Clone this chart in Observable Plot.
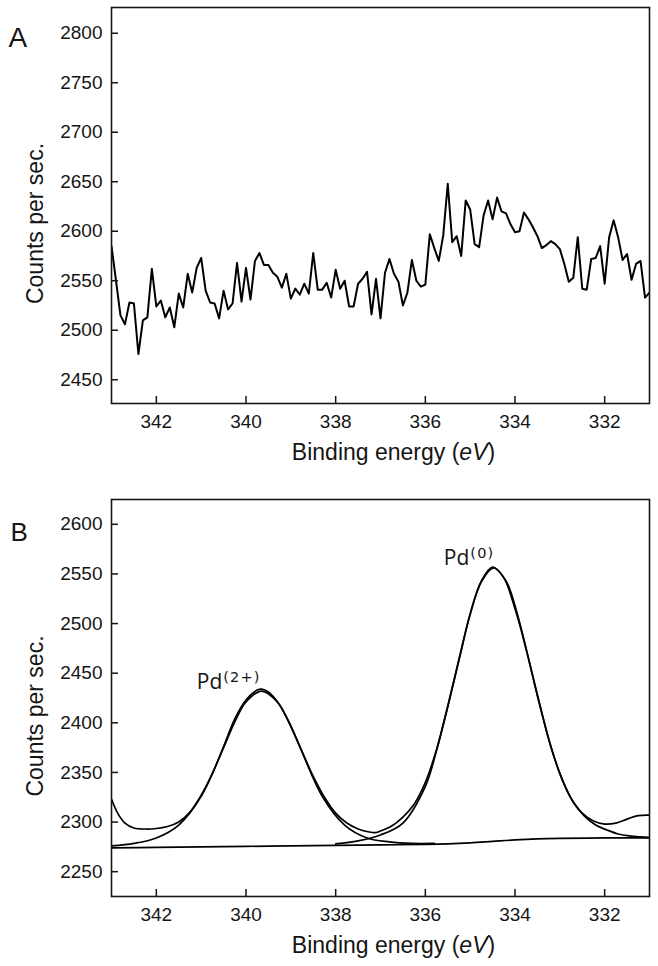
<!DOCTYPE html>
<html>
<head>
<meta charset="utf-8">
<script src="https://cdn.jsdelivr.net/npm/d3@7"></script>
<script src="https://cdn.jsdelivr.net/npm/@observablehq/plot@0.6"></script>
<style>
  html, body { margin: 0; padding: 0; background: #fff; }
  #chart svg { display: block; }
</style>
</head>
<body>
<div id="chart"></div>
<script>
// ---------- Panel A: raw spectrum ----------
const aEnergy = [343.0,342.9,342.8,342.7,342.6,342.5,342.4,342.3,342.2,342.1,342.0,341.9,341.8,341.7,341.6,341.5,341.4,341.3,341.2,341.1,341.0,340.9,340.8,340.7,340.6,340.5,340.4,340.3,340.2,340.1,340.0,339.9,339.8,339.7,339.6,339.5,339.4,339.3,339.2,339.1,339.0,338.9,338.8,338.7,338.6,338.5,338.4,338.3,338.2,338.1,338.0,337.9,337.8,337.7,337.6,337.5,337.4,337.3,337.2,337.1,337.0,336.9,336.8,336.7,336.6,336.5,336.4,336.3,336.2,336.1,336.0,335.9,335.8,335.7,335.6,335.5,335.4,335.3,335.2,335.1,335.0,334.9,334.8,334.7,334.6,334.5,334.4,334.3,334.2,334.1,334.0,333.9,333.8,333.7,333.6,333.5,333.4,333.3,333.2,333.1,333.0,332.9,332.8,332.7,332.6,332.5,332.4,332.3,332.2,332.1,332.0,331.9,331.8,331.7,331.6,331.5,331.4,331.3,331.2,331.1,331.0];
const aCounts = [2585,2550,2515,2506,2528,2527,2476,2510,2513,2562,2524,2530,2513,2523,2503,2537,2523,2557,2538,2563,2573,2540,2528,2527,2512,2540,2521,2527,2568,2529,2563,2531,2570,2578,2566,2566,2558,2554,2543,2557,2532,2542,2536,2547,2537,2578,2541,2541,2548,2533,2561,2542,2550,2524,2524,2547,2552,2559,2516,2552,2512,2558,2572,2557,2549,2525,2538,2571,2550,2544,2546,2597,2583,2570,2596,2648,2589,2595,2575,2631,2622,2587,2584,2616,2631,2612,2634,2620,2618,2607,2599,2600,2619,2612,2604,2595,2583,2586,2590,2587,2582,2567,2549,2553,2594,2542,2541,2572,2573,2585,2547,2594,2611,2594,2571,2577,2551,2567,2570,2533,2538];

// ---------- Panel B: fitted spectrum ----------
const bEnergy = [343.0,342.85,342.7,342.5,342.25,342.0,341.75,341.5,341.25,341.0,340.75,340.5,340.25,340.0,339.75,339.65,339.5,339.25,339.0,338.75,338.5,338.25,338.0,337.75,337.5,337.25,337.1,337.0,336.75,336.5,336.25,336.0,335.75,335.5,335.25,335.0,334.75,334.5,334.25,334.0,333.75,333.5,333.25,333.0,332.75,332.5,332.25,332.0,331.75,331.5,331.25,331.0];
const bCounts = [2323,2308,2299,2294,2293,2293.5,2295.5,2300,2310,2327,2349,2376,2404,2423,2433,2434,2431,2418,2397,2371,2346,2325,2309,2299,2293,2290,2289.5,2291,2296,2305,2318,2340,2373,2417,2464,2510,2543,2557,2546,2515,2474,2427,2384,2349,2324,2309,2301,2298,2299,2303,2306.5,2307];

const pd2Energy = [343.0,342.5,342.0,341.5,341.0,340.5,340.25,340.0,339.65,339.3,339.05,338.8,338.3,337.8,337.3,336.8,336.3,335.8];
const pd2Counts = [2276,2278.5,2284,2297,2326,2375,2401,2421,2432,2421,2401,2376,2326,2297,2284,2280,2278.5,2278.5];

const pd0Energy = [338.0,337.5,337.0,336.5,336.0,335.75,335.5,335.25,335.0,334.75,334.48,334.2,333.95,333.7,333.45,333.2,332.95,332.7,332.45,332.2,331.95,331.7,331.45,331.2,331.0];
const pd0Counts = [2278,2281,2287,2299,2336,2372,2416,2463,2509,2542,2556,2543,2510,2465,2419,2376,2343,2320,2306,2297,2292,2288,2286,2285,2284.5];

const bgEnergy = [343.0,342.0,341.0,340.0,339.0,338.0,337.0,336.0,335.5,335.0,334.5,334.0,333.5,333.0,332.0,331.0];
const bgCounts = [2274,2274.5,2275,2275.5,2276,2276.5,2277,2277.5,2278,2279,2280.5,2282,2283,2283.5,2284,2284];

// ---------- ticks & labels ----------
const xTicks = [342, 340, 338, 336, 334, 332];
const yTicksA = [2450, 2500, 2550, 2600, 2650, 2700, 2750, 2800];
const yTicksB = [2250, 2300, 2350, 2400, 2450, 2500, 2550, 2600];
const peakNames = ["Pd", "Pd"];
const peakCharges = ["(2+)", "(0)"];
const peakLabelX = [340.53, 335.02];
const peakLabelY = [2434, 2559];

const toRows = (xs, ys) => xs.map((x, i) => ({x, y: ys[i]}));
const seriesA = toRows(aEnergy, aCounts);
const seriesB = toRows(bEnergy, bCounts);
const seriesPd2 = toRows(pd2Energy, pd2Counts);
const seriesPd0 = toRows(pd0Energy, pd0Counts);
const seriesBg = toRows(bgEnergy, bgCounts);
const peakLabels = peakNames.map((n, i) => ({name: n, charge: peakCharges[i], x: peakLabelX[i], y: peakLabelY[i]}));

const FONT = "'Liberation Sans', Arial, Helvetica, sans-serif";
const INK = "#151515";
const fmt = (d) => String(d);

function panel({letter, letterSize, letterDy, letterDx, marginTop, marginBottom, yDomain, yTicks, marks}) {
  return Plot.plot({
    width: 658,
    height: 483,
    marginLeft: 111,
    marginRight: 9,
    marginTop,
    marginBottom,
    style: {fontFamily: FONT, fontSize: "19px", color: INK, background: "#fff", overflow: "visible"},
    x: {domain: [343, 331]},
    y: {domain: yDomain},
    marks: [
      ...marks,
      Plot.frame({stroke: INK, strokeWidth: 1.6}),
      Plot.axisX(xTicks, {anchor: "bottom", tickSize: -7, tickPadding: 18, fontSize: 19, strokeWidth: 1.5, tickFormat: fmt, label: null}),
      Plot.axisY(yTicks, {anchor: "left", tickSize: -7, tickPadding: 16, fontSize: 19, strokeWidth: 1.5, tickFormat: fmt, label: null}),
      Plot.text([letter], {frameAnchor: "top-left", textAnchor: "start", lineAnchor: "bottom", dx: letterDx, dy: letterDy, fontSize: letterSize, fill: INK}),
      Plot.text(["Counts per sec."], {frameAnchor: "left", textAnchor: "middle", lineAnchor: "middle", rotate: -90, dx: -75.5, dy: 18, fontSize: 23, fill: INK}),
      Plot.text(["Binding energy (eV)"], {frameAnchor: "bottom", textAnchor: "middle", lineAnchor: "bottom", dx: 13, dy: 56, fontSize: 23, fill: INK})
    ]
  });
}

const svgA = panel({
  letter: "A", letterSize: 28, letterDx: -103, letterDy: 39.5,
  marginTop: 7, marginBottom: 80,
  yDomain: [2426, 2826], yTicks: yTicksA,
  marks: [
    Plot.line(seriesA, {x: "x", y: "y", stroke: "#000", strokeWidth: 2, strokeLinejoin: "round", clip: true})
  ]
});

const svgB = panel({
  letter: "B", letterSize: 26, letterDx: -101, letterDy: 41,
  marginTop: 16, marginBottom: 70,
  yDomain: [2225, 2625], yTicks: yTicksB,
  marks: [
    Plot.line(seriesBg, {x: "x", y: "y", stroke: "#000", strokeWidth: 1.7, curve: "catmull-rom", clip: true}),
    Plot.line(seriesPd2, {x: "x", y: "y", stroke: "#000", strokeWidth: 1.7, curve: "catmull-rom", clip: true}),
    Plot.line(seriesPd0, {x: "x", y: "y", stroke: "#000", strokeWidth: 1.7, curve: "catmull-rom", clip: true}),
    Plot.line(seriesB, {x: "x", y: "y", stroke: "#000", strokeWidth: 1.7, curve: "catmull-rom", clip: true}),
    Plot.text(peakLabels, {x: "x", y: "y", text: "name", textAnchor: "end", lineAnchor: "bottom", fontFamily: "'Open Sans', sans-serif", fontSize: 21, fill: INK}),
    Plot.text(peakLabels, {x: "x", y: "y", text: "charge", textAnchor: "start", lineAnchor: "bottom", dx: 1, dy: -7, fontFamily: "'DejaVu Sans', sans-serif", fontSize: 14.5, fill: INK})
  ]
});

// italic "eV" in the x-axis titles; letter spacing for the oxidation-state superscripts
for (const svg of [svgA, svgB]) {
  d3.select(svg).selectAll("text").each(function () {
    const t = this.textContent;
    if (t === "Binding energy (eV)") {
      let node = this;
      while (node.firstElementChild) node = node.firstElementChild;
      d3.select(node).text(null);
      d3.select(node).append("tspan").text("Binding energy (");
      d3.select(node).append("tspan").attr("font-style", "italic").text("eV");
      d3.select(node).append("tspan").text(")");
    } else if (peakCharges.includes(t)) {
      d3.select(this).attr("letter-spacing", "1.2px");
    }
  });
}

const root = document.getElementById("chart");
root.appendChild(svgA);
root.appendChild(svgB);
</script>
</body>
</html>
